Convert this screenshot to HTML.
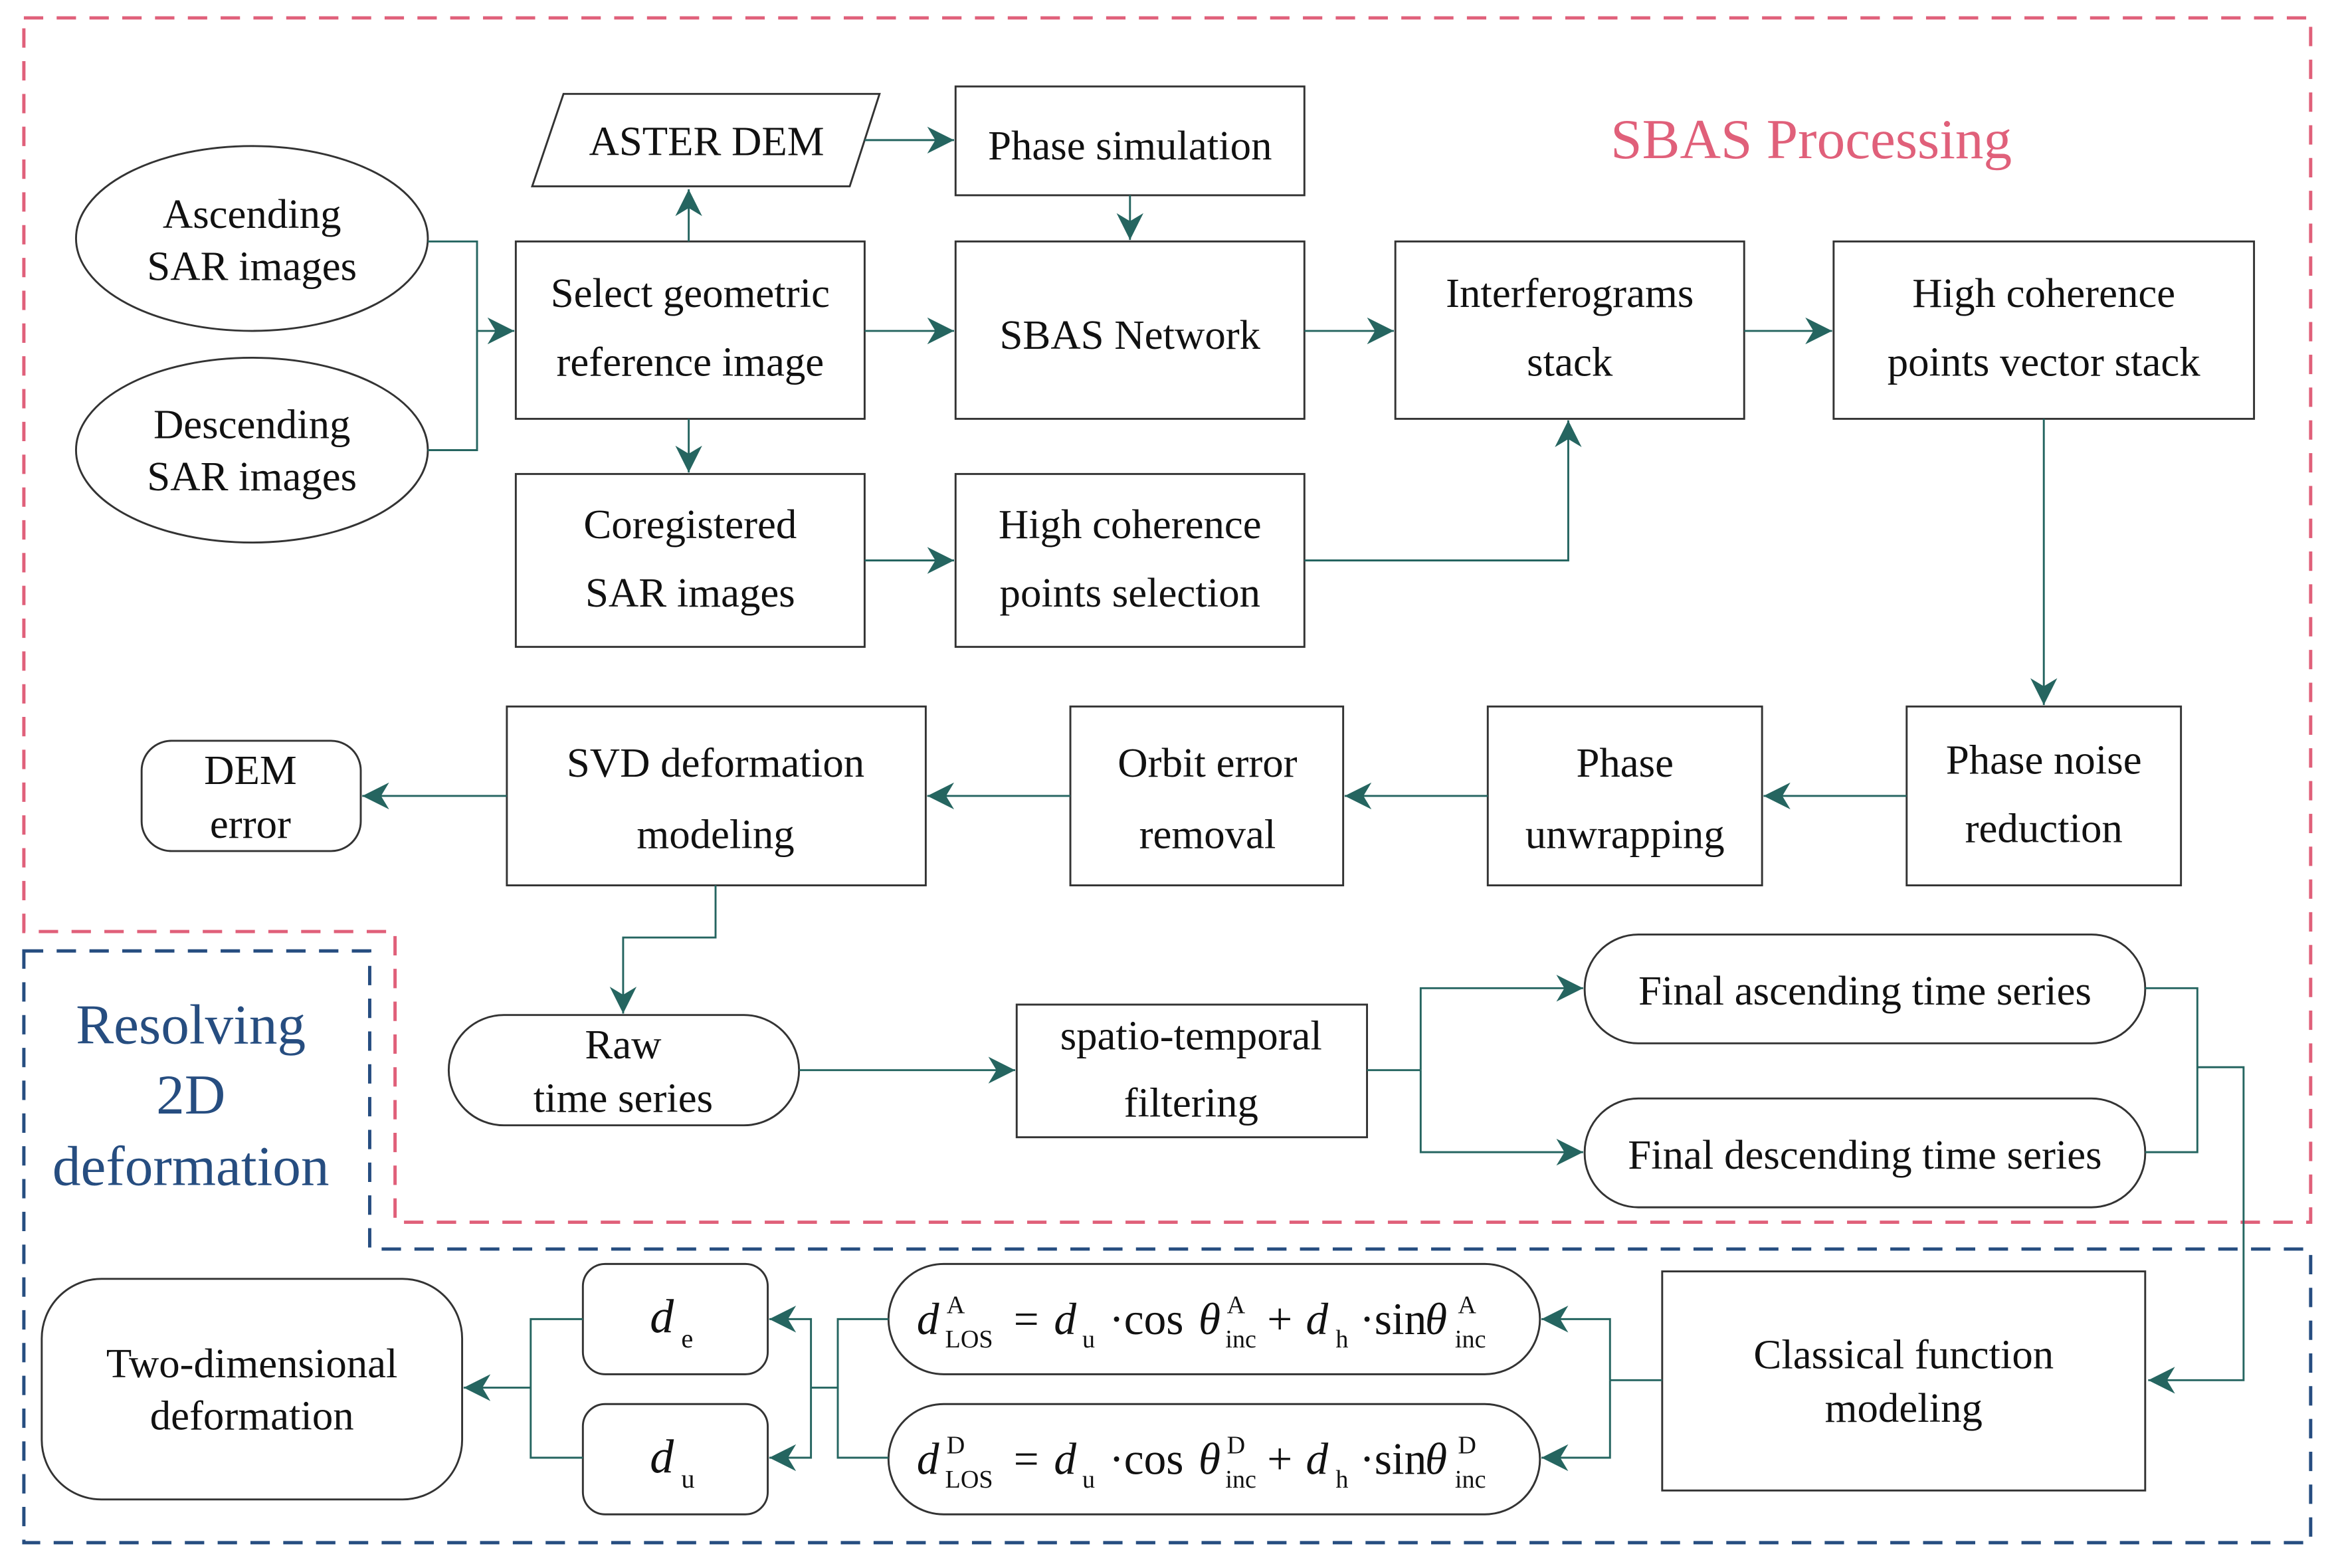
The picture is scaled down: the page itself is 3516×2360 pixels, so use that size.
<!DOCTYPE html>
<html><head><meta charset="utf-8"><style>
html,body{margin:0;padding:0;background:#fff;}
svg{display:block;}
text{font-family:"Liberation Serif",serif;fill:#111;}
</style></head><body>
<svg width="3516" height="2360" viewBox="0 0 1567 1052" preserveAspectRatio="none" xmlns="http://www.w3.org/2000/svg">
<defs>
<marker id="a" viewBox="0 0 10 10" refX="10" refY="5" markerWidth="18" markerHeight="18" markerUnits="userSpaceOnUse" orient="auto">
<path d="M0,0 L10,5 L0,10 L3,5 Z" fill="#256560"/></marker>
</defs>
<path d="M16,12 H1550 V820 H265 V625 H16 Z" fill="none" stroke="#e0607a" stroke-width="2.2" stroke-dasharray="13 9"/>
<path d="M16,638 H248 V838 H1550 V1035 H16 Z" fill="none" stroke="#264d80" stroke-width="2.2" stroke-dasharray="13 9"/>
<text x="1215" y="106" font-size="38" text-anchor="middle" style="fill:#e0607a">SBAS Processing</text>
<g font-size="38" text-anchor="middle">
<text x="128" y="700" style="fill:#264d80">Resolving</text>
<text x="128" y="747" style="fill:#264d80">2D</text>
<text x="128" y="795" style="fill:#264d80">deformation</text>
</g>
<g fill="#fff" stroke="#333" stroke-width="1.3">
<ellipse cx="169" cy="160" rx="118" ry="62"/>
<ellipse cx="169" cy="302" rx="118" ry="62"/>
<rect x="346" y="162" width="234" height="119"/>
<polygon points="378,63 590,63 570,125 357,125"/>
<rect x="641" y="58" width="234" height="73"/>
<rect x="641" y="162" width="234" height="119"/>
<rect x="936" y="162" width="234" height="119"/>
<rect x="1230" y="162" width="282" height="119"/>
<rect x="346" y="318" width="234" height="116"/>
<rect x="641" y="318" width="234" height="116"/>
<rect x="1279" y="474" width="184" height="120"/>
<rect x="998" y="474" width="184" height="120"/>
<rect x="718" y="474" width="183" height="120"/>
<rect x="340" y="474" width="281" height="120"/>
<rect x="95" y="497" width="147" height="74" rx="20"/>
<rect x="301" y="681" width="235" height="74" rx="37"/>
<rect x="682" y="674" width="235" height="89"/>
<rect x="1063" y="627" width="376" height="73" rx="36"/>
<rect x="1063" y="737" width="376" height="73" rx="36"/>
<rect x="1115" y="853" width="324" height="147"/>
<rect x="596" y="848" width="437" height="74" rx="37"/>
<rect x="596" y="942" width="437" height="74" rx="37"/>
<rect x="391" y="848" width="124" height="74" rx="15"/>
<rect x="391" y="942" width="124" height="74" rx="15"/>
<rect x="28" y="858" width="282" height="148" rx="40"/>
</g>
<g fill="none" stroke="#256560" stroke-width="1.3">
<path d="M287,162 H320 V302 H287"/>
<path d="M320,222 H345" marker-end="url(#a)"/>
<path d="M462,162 V127" marker-end="url(#a)"/>
<path d="M580,94 H640" marker-end="url(#a)"/>
<path d="M758,131 V161" marker-end="url(#a)"/>
<path d="M580,222 H640" marker-end="url(#a)"/>
<path d="M875,222 H935" marker-end="url(#a)"/>
<path d="M1170,222 H1229" marker-end="url(#a)"/>
<path d="M462,281 V317" marker-end="url(#a)"/>
<path d="M580,376 H640" marker-end="url(#a)"/>
<path d="M875,376 H1052 V282" marker-end="url(#a)"/>
<path d="M1371,281 V473" marker-end="url(#a)"/>
<path d="M1279,534 H1183" marker-end="url(#a)"/>
<path d="M998,534 H902" marker-end="url(#a)"/>
<path d="M718,534 H622" marker-end="url(#a)"/>
<path d="M340,534 H243" marker-end="url(#a)"/>
<path d="M480,594 V629 H418 V680" marker-end="url(#a)"/>
<path d="M536,718 H681" marker-end="url(#a)"/>
<path d="M917,718 H953"/>
<path d="M953,718 V663 H1062" marker-end="url(#a)"/>
<path d="M953,718 V773 H1062" marker-end="url(#a)"/>
<path d="M1439,663 H1474 V773 H1439"/>
<path d="M1474,716 H1505 V926 H1441" marker-end="url(#a)"/>
<path d="M1115,926 H1080"/>
<path d="M1080,926 V885 H1034" marker-end="url(#a)"/>
<path d="M1080,926 V978 H1034" marker-end="url(#a)"/>
<path d="M596,885 H562 V978 H596"/>
<path d="M562,931 H544"/>
<path d="M544,931 V885 H516" marker-end="url(#a)"/>
<path d="M544,931 V978 H516" marker-end="url(#a)"/>
<path d="M391,885 H356 V978 H391"/>
<path d="M356,931 H311" marker-end="url(#a)"/>
</g>
<g font-size="28" text-anchor="middle">
<text x="169" y="153">Ascending</text><text x="169" y="188">SAR images</text>
<text x="169" y="294">Descending</text><text x="169" y="329">SAR images</text>
<text x="463" y="206">Select geometric</text><text x="463" y="252">reference image</text>
<text x="474" y="104">ASTER DEM</text>
<text x="758" y="107">Phase simulation</text>
<text x="758" y="234">SBAS Network</text>
<text x="1053" y="206">Interferograms</text><text x="1053" y="252">stack</text>
<text x="1371" y="206">High coherence</text><text x="1371" y="252">points vector stack</text>
<text x="463" y="361">Coregistered</text><text x="463" y="407">SAR images</text>
<text x="758" y="361">High coherence</text><text x="758" y="407">points selection</text>
<text x="1371" y="519">Phase noise</text><text x="1371" y="565">reduction</text>
<text x="1090" y="521">Phase</text><text x="1090" y="569">unwrapping</text>
<text x="810" y="521">Orbit error</text><text x="810" y="569">removal</text>
<text x="480" y="521">SVD deformation</text><text x="480" y="569">modeling</text>
<text x="168" y="526">DEM</text><text x="168" y="562">error</text>
<text x="418" y="710">Raw</text><text x="418" y="746">time series</text>
<text x="799" y="704">spatio-temporal</text><text x="799" y="749">filtering</text>
<text x="1251" y="674">Final ascending time series</text>
<text x="1251" y="784">Final descending time series</text>
<text x="1277" y="918">Classical function</text><text x="1277" y="954">modeling</text>
<text x="169" y="924">Two-dimensional</text><text x="169" y="959">deformation</text>
</g>
<g font-size="32">
<text x="436" y="894" font-style="italic">d</text><text x="457" y="904" font-size="18">e</text>
<text x="436" y="988" font-style="italic">d</text><text x="457" y="998" font-size="18">u</text>
</g>
<g font-size="30">
<text x="615" y="895" font-style="italic">d</text>
<text x="635" y="881" font-size="17">A</text><text x="634" y="904" font-size="17">LOS</text>
<text x="680" y="895">=</text>
<text x="707" y="895" font-style="italic">d</text><text x="726" y="904" font-size="17">u</text>
<text x="744" y="895">·cos</text><text x="804" y="895" font-style="italic">θ</text>
<text x="823" y="881" font-size="17">A</text><text x="822" y="904" font-size="17">inc</text>
<text x="850" y="895">+</text>
<text x="876" y="895" font-style="italic">d</text><text x="896" y="904" font-size="17">h</text>
<text x="912" y="895">·sin</text><text x="956" y="895" font-style="italic">θ</text>
<text x="978" y="881" font-size="17">A</text><text x="976" y="904" font-size="17">inc</text>

<text x="615" y="989" font-style="italic">d</text>
<text x="635" y="975" font-size="17">D</text><text x="634" y="998" font-size="17">LOS</text>
<text x="680" y="989">=</text>
<text x="707" y="989" font-style="italic">d</text><text x="726" y="998" font-size="17">u</text>
<text x="744" y="989">·cos</text><text x="804" y="989" font-style="italic">θ</text>
<text x="823" y="975" font-size="17">D</text><text x="822" y="998" font-size="17">inc</text>
<text x="850" y="989">+</text>
<text x="876" y="989" font-style="italic">d</text><text x="896" y="998" font-size="17">h</text>
<text x="912" y="989">·sin</text><text x="956" y="989" font-style="italic">θ</text>
<text x="978" y="975" font-size="17">D</text><text x="976" y="998" font-size="17">inc</text>
</g>
</svg>
</body></html>
